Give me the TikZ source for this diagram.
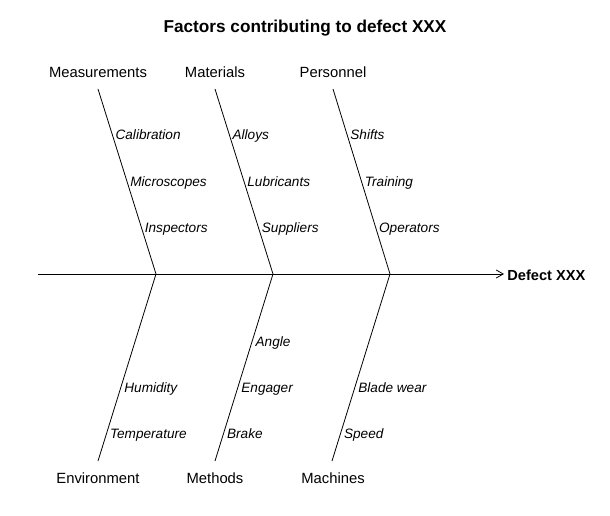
\documentclass[tikz,border=0pt]{standalone}
\usepackage{fontspec}
\setmainfont{Liberation Sans}
\usetikzlibrary{arrows.meta}

\tikzset{every picture/.style={line width=0.8pt}}
\tikzset{
  catlabel/.style={font=\fontsize{14.8}{17}\selectfont, text height=1.5ex, text depth=.3ex, yshift=-2pt},
  causelabel/.style={anchor=west, inner sep=3pt, text height=1.5ex, text depth=.3ex, yshift=-2pt, font=\fontsize{13.6}{16}\selectfont\itshape},
  bone/.style={line width=0.8pt}
}

\begin{document}
\begin{tikzpicture}[x=1pt,y=1pt,yscale=-1,xscale=1]
\useasboundingbox (0,0) rectangle (610,516);

% Text Node
\node [font=\fontsize{17.2}{20}\selectfont\bfseries] (title) at (305,28) {Factors contributing to defect XXX};

%Straight Lines [id:spine]
\coordinate (tail) at (38,274);
\node [anchor=west, inner sep=3pt, text height=1.5ex, text depth=.3ex, font=\fontsize{14.6}{17}\selectfont\bfseries] (effect) at (504,277) {Defect XXX};
\draw [bone,-{Straight Barb[length=7pt,width=8pt]}] (tail) -- (effect.west |- tail);

% junctions on the spine
\coordinate (measJ) at (156,274);
\coordinate (matJ) at (273,274);
\coordinate (persJ) at (390,274);
% bone ends
\coordinate (measE) at (98,89);
\coordinate (matE) at (215,89);
\coordinate (persE) at (333,89);
\coordinate (envE) at (98,461);
\coordinate (methE) at (215,461);
\coordinate (machE) at (332,461);

% Text Node
\node [catlabel] (meas) at (98,72) {Measurements};
% Text Node
\node [catlabel] (mat) at (215,72) {Materials};
% Text Node
\node [catlabel] (pers) at (333,72) {Personnel};
% Text Node
\node [catlabel] (env) at (98,478) {Environment};
% Text Node
\node [catlabel] (meth) at (215,478) {Methods};
% Text Node
\node [catlabel] (mach) at (333,478) {Machines};

%Straight Lines [id:upper bones]
\draw [bone] (measE) -- (measJ)
  node [causelabel, pos=0.245] (calib) {Calibration}
  node [causelabel, pos=0.5] (micro) {Microscopes}
  node [causelabel, pos=0.75] (insp) {Inspectors};
\draw [bone] (matE) -- (matJ)
  node [causelabel, pos=0.245] (alloy) {Alloys}
  node [causelabel, pos=0.5] (lubr) {Lubricants}
  node [causelabel, pos=0.75] (suppl) {Suppliers};
\draw [bone] (persE) -- (persJ)
  node [causelabel, pos=0.245] (shift) {Shifts}
  node [causelabel, pos=0.5] (train) {Training}
  node [causelabel, pos=0.75] (oper) {Operators};

%Straight Lines [id:lower bones]
\draw [bone] (measJ) -- (envE)
  node [causelabel, pos=0.604] (humid) {Humidity}
  node [causelabel, pos=0.85] (temp) {Temperature};
\draw [bone] (matJ) -- (methE)
  node [causelabel, pos=0.358] (angle) {Angle}
  node [causelabel, pos=0.604] (engag) {Engager}
  node [causelabel, pos=0.85] (brake) {Brake};
\draw [bone] (persJ) -- (machE)
  node [causelabel, pos=0.604] (blade) {Blade wear}
  node [causelabel, pos=0.85] (speed) {Speed};

\end{tikzpicture}
\end{document}
